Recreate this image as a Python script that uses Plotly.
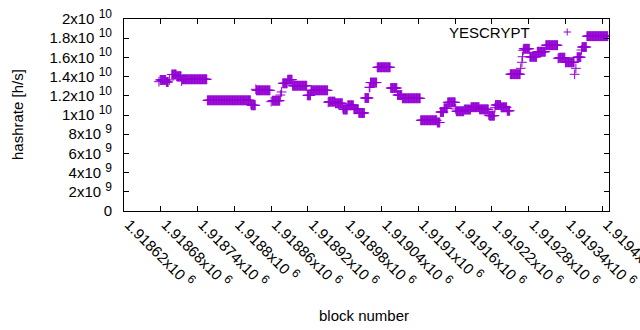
import plotly.graph_objects as go

# Runs of (nearly) constant hashrate: first block, last block, hashrate [h/s]
seg_start = [1918677, 1918679, 1918689, 1918694, 1918698, 1918706, 1918714, 1918715,
             1918756, 1918827, 1918828, 1918835, 1918836, 1918860, 1918862, 1918875,
             1918877, 1918879, 1918887, 1918895, 1918919, 1918925, 1918953, 1918954,
             1918965, 1918977, 1918978, 1918985, 1918995, 1919003, 1919013, 1919020,
             1919022, 1919033, 1919055, 1919066, 1919074, 1919104, 1919131, 1919136,
             1919142, 1919148, 1919161, 1919162, 1919175, 1919186, 1919200, 1919215,
             1919216, 1919225, 1919226, 1919235, 1919245, 1919250, 1919267, 1919269,
             1919270, 1919271, 1919272, 1919282, 1919294, 1919308, 1919328, 1919330,
             1919340, 1919355, 1919357, 1919359, 1919366, 1919367, 1919375]
seg_end = [1918677, 1918688, 1918692, 1918694, 1918705, 1918713, 1918714, 1918755,
           1918826, 1918827, 1918834, 1918835, 1918858, 1918860, 1918874, 1918875,
           1918877, 1918886, 1918894, 1918918, 1918924, 1918952, 1918953, 1918964,
           1918976, 1918977, 1918984, 1918994, 1919002, 1919012, 1919019, 1919021,
           1919032, 1919054, 1919065, 1919073, 1919103, 1919130, 1919135, 1919141,
           1919147, 1919160, 1919161, 1919174, 1919185, 1919199, 1919214, 1919215,
           1919224, 1919225, 1919234, 1919244, 1919249, 1919266, 1919267, 1919269,
           1919270, 1919271, 1919281, 1919293, 1919307, 1919327, 1919329, 1919339,
           1919354, 1919355, 1919357, 1919365, 1919366, 1919374, 1919409]
seg_hashrate = [13.47e9, 13.65e9, 13.44e9, 13.65e9, 14.22e9, 14.04e9, 13.54e9, 13.72e9,
                11.53e9, 11.11e9, 11.01e9, 12.68e9, 12.57e9, 11.39e9, 11.49e9, 12.08e9,
                12.40e9, 13.30e9, 13.68e9, 13.05e9, 12.05e9, 12.57e9, 11.32e9, 11.39e9,
                11.22e9, 10.70e9, 10.57e9, 11.01e9, 10.60e9, 10.21e9, 11.77e9, 12.88e9,
                13.38e9, 14.97e9, 12.81e9, 12.08e9, 11.74e9, 9.45e9, 9.22e9, 10.31e9,
                10.70e9, 11.32e9, 10.63e9, 10.39e9, 10.57e9, 10.81e9, 10.59e9, 10.00e9,
                9.93e9, 10.76e9, 11.04e9, 10.80e9, 10.44e9, 14.25e9, 14.86e9, 15.49e9,
                16.07e9, 16.74e9, 16.90e9, 16.06e9, 16.59e9, 17.27e9, 15.91e9, 15.97e9,
                15.49e9, 14.24e9, 14.86e9, 16.02e9, 16.77e9, 17.08e9, 18.21e9]

x_tick_vals = [1918620, 1918680, 1918740, 1918800, 1918860, 1918920, 1918980,
               1919040, 1919100, 1919160, 1919220, 1919280, 1919340, 1919400]
x_tick_mant = ["1.91862", "1.91868", "1.91874", "1.9188", "1.91886", "1.91892",
               "1.91898", "1.91904", "1.9191", "1.91916", "1.91922", "1.91928",
               "1.91934", "1.9194"]
x_tick_exp = "6"
y_tick_vals = [0, 2e9, 4e9, 6e9, 8e9, 1e10, 1.2e10, 1.4e10, 1.6e10, 1.8e10, 2e10]
y_tick_mant = ["0", "2", "4", "6", "8", "1", "1.2", "1.4", "1.6", "1.8", "2"]
y_tick_exp = ["", "9", "9", "9", "9", "10", "10", "10", "10", "10", "10"]
x_range = [1918620, 1919411]
y_range = [0, 2e10]
series_name = "YESCRYPT"
color = "#9400D3"

def sci(m, e):
    if not e:
        return m
    return m + "x10 <sup><span style='font-size:12px'>" + e + "</span></sup>"

x_tick_text = [sci(m, x_tick_exp) for m in x_tick_mant]
y_tick_text = [sci(m, e) for m, e in zip(y_tick_mant, y_tick_exp)]

blocks, rates = [], []
for s, e, v in zip(seg_start, seg_end, seg_hashrate):
    for b in range(s, e + 1):
        blocks.append(b)
        rates.append(v)

FONT = "Liberation Sans, Arial, sans-serif"
fig = go.Figure()
fig.add_trace(go.Scatter(
    x=blocks, y=rates, mode="markers", name=series_name, showlegend=False,
    marker=dict(symbol="cross-thin", size=7, color=color,
                line=dict(width=1, color=color)),
))

L, R, T, B = 124, 31, 19, 119
W, H = 640, 330
pw, ph = W - L - R, H - T - B

def px(xp):
    return (xp - L) / pw

def py(yp):
    return (H - B - yp) / ph

axis_common = dict(showline=True, linecolor="black", linewidth=1, mirror="ticks",
                   ticks="inside", ticklen=5, tickcolor="black", showgrid=False,
                   zeroline=False, automargin=False, ticklabeloverflow="allow",
                   tickfont=dict(family=FONT, size=15, color="#000"))
fig.update_xaxes(range=x_range, tickmode="array", tickvals=x_tick_vals,
                 ticktext=x_tick_text, tickangle=45, ticklabelstandoff=-2,
                 ticklabelshift=5, **axis_common)
fig.update_yaxes(range=y_range, tickmode="array", tickvals=y_tick_vals,
                 ticktext=y_tick_text, ticklabelstandoff=8, **axis_common)

fig.update_layout(
    width=W, height=H, margin=dict(l=L, r=R, t=T, b=B, pad=0),
    paper_bgcolor="white", plot_bgcolor="white",
    font=dict(family=FONT, size=15, color="#000"),
    annotations=[
        dict(text="hashrate [h/s]", xref="paper", yref="paper", x=px(17), y=0.5,
             textangle=-90, showarrow=False, xanchor="center", yanchor="middle",
             font=dict(family=FONT, size=15)),
        dict(text="block number", xref="paper", yref="paper", x=px(364), y=py(315),
             showarrow=False, xanchor="center", yanchor="middle",
             font=dict(family=FONT, size=15)),
        dict(text=series_name, xref="paper", yref="paper", x=px(532), y=py(32),
             showarrow=False, xanchor="right", yanchor="middle",
             font=dict(family=FONT, size=15)),
    ],
    shapes=[
        dict(type="line", xref="paper", yref="paper", x0=px(563.5), x1=px(571),
             y0=py(32), y1=py(32), line=dict(color=color, width=1)),
        dict(type="line", xref="paper", yref="paper", x0=px(567.2), x1=px(567.2),
             y0=py(28.5), y1=py(35.5), line=dict(color=color, width=1)),
    ],
)

fig.write_html(
    "out.html",
    config={"displayModeBar": False, "staticPlot": True},
    post_script="document.body.style.margin='0';document.body.style.overflow='hidden';",
)
